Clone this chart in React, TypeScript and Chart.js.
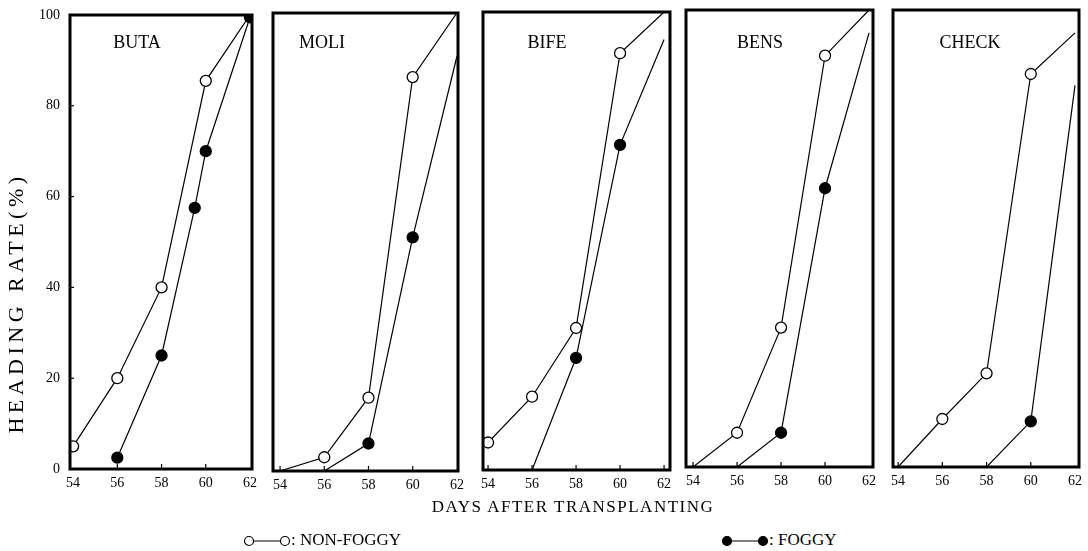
import React, { useEffect, useRef } from "react";
import { Chart, registerables } from "chart.js";

Chart.register(...registerables);

// ---------------- data ----------------
const X_TICKS = [54, 56, 58, 60, 62];
const Y_TICKS = [0, 20, 40, 60, 80, 100];
const VARIETIES = ["BUTA", "MOLI", "BIFE", "BENS", "CHECK"];

// Non-foggy (open circles): observed days / heading rate (%), plus line start/end points
const BUTA_NF_DAYS = [54, 56, 58, 60];
const BUTA_NF_RATE = [5, 20, 40, 85.5];
const BUTA_NF_START: number[] = [];
const BUTA_NF_END = [62, 100];
// Foggy (filled circles)
const BUTA_F_DAYS = [56, 58, 59.5, 60, 62];
const BUTA_F_RATE = [2.5, 25, 57.5, 70, 99.5];
const BUTA_F_START: number[] = [];
const BUTA_F_END: number[] = [];

const MOLI_NF_DAYS = [56, 58, 60];
const MOLI_NF_RATE = [3, 16, 86];
const MOLI_NF_START = [54, 0];
const MOLI_NF_END = [62, 100];
const MOLI_F_DAYS = [58, 60];
const MOLI_F_RATE = [6, 51];
const MOLI_F_START = [56, 0];
const MOLI_F_END = [62, 90.5];

const BIFE_NF_DAYS = [54, 56, 58, 60];
const BIFE_NF_RATE = [6, 16, 31, 91];
const BIFE_NF_START: number[] = [];
const BIFE_NF_END = [62, 100];
const BIFE_F_DAYS = [58, 60];
const BIFE_F_RATE = [24.5, 71];
const BIFE_F_START = [56, 0];
const BIFE_F_END = [62, 94];

const BENS_NF_DAYS = [56, 58, 60];
const BENS_NF_RATE = [7.5, 30.5, 90];
const BENS_NF_START = [54, 0];
const BENS_NF_END = [62, 100];
const BENS_F_DAYS = [58, 60];
const BENS_F_RATE = [7.5, 61];
const BENS_F_START = [56, 0];
const BENS_F_END = [62, 95];

const CHECK_NF_DAYS = [56, 58, 60];
const CHECK_NF_RATE = [10.5, 20.5, 86];
const CHECK_NF_START = [54, 0];
const CHECK_NF_END = [62, 95];
const CHECK_F_DAYS = [60];
const CHECK_F_RATE = [10];
const CHECK_F_START = [58, 0];
const CHECK_F_END = [62, 83.5];

type Series = { days: number[]; rate: number[]; start: number[]; end: number[] };

const PANEL_SERIES: { nf: Series; f: Series }[] = [
  {
    nf: { days: BUTA_NF_DAYS, rate: BUTA_NF_RATE, start: BUTA_NF_START, end: BUTA_NF_END },
    f: { days: BUTA_F_DAYS, rate: BUTA_F_RATE, start: BUTA_F_START, end: BUTA_F_END },
  },
  {
    nf: { days: MOLI_NF_DAYS, rate: MOLI_NF_RATE, start: MOLI_NF_START, end: MOLI_NF_END },
    f: { days: MOLI_F_DAYS, rate: MOLI_F_RATE, start: MOLI_F_START, end: MOLI_F_END },
  },
  {
    nf: { days: BIFE_NF_DAYS, rate: BIFE_NF_RATE, start: BIFE_NF_START, end: BIFE_NF_END },
    f: { days: BIFE_F_DAYS, rate: BIFE_F_RATE, start: BIFE_F_START, end: BIFE_F_END },
  },
  {
    nf: { days: BENS_NF_DAYS, rate: BENS_NF_RATE, start: BENS_NF_START, end: BENS_NF_END },
    f: { days: BENS_F_DAYS, rate: BENS_F_RATE, start: BENS_F_START, end: BENS_F_END },
  },
  {
    nf: { days: CHECK_NF_DAYS, rate: CHECK_NF_RATE, start: CHECK_NF_START, end: CHECK_NF_END },
    f: { days: CHECK_F_DAYS, rate: CHECK_F_RATE, start: CHECK_F_START, end: CHECK_F_END },
  },
];

// ---------------- layout (page pixels) ----------------
const FONT = '"Liberation Serif", "Times New Roman", Times, serif';
const PAD_L = 20;
const PAD_R = 20;
const PAD_T = 20;
const X_AXIS_H = 28;
const NAME_Y = 43;

const LAYOUT = [
  { left: 70, right: 252, top: 15, bottom: 469, xMin: 53.86, xMax: 62.09, nameX: 137 },
  { left: 273, right: 458, top: 13, bottom: 471, xMin: 53.68, xMax: 62.05, nameX: 322 },
  { left: 483, right: 670, top: 12, bottom: 470, xMin: 53.77, xMax: 62.27, nameX: 547 },
  { left: 686, right: 873, top: 10, bottom: 467, xMin: 53.68, xMax: 62.18, nameX: 760 },
  { left: 893, right: 1079, top: 10, bottom: 467, xMin: 53.77, xMax: 62.18, nameX: 970 },
];

function toPoints(s: Series) {
  const pts: { x: number; y: number }[] = [];
  if (s.start.length) pts.push({ x: s.start[0], y: s.start[1] });
  s.days.forEach((d, i) => pts.push({ x: d, y: s.rate[i] }));
  if (s.end.length) pts.push({ x: s.end[0], y: s.end[1] });
  return pts;
}

function makeDataset(s: Series, filled: boolean, label: string) {
  const first = s.start.length ? 1 : 0;
  const last = first + s.days.length - 1;
  return {
    label,
    data: toPoints(s),
    borderColor: "#000",
    borderWidth: 1.2,
    tension: 0,
    fill: false,
    pointRadius: (ctx: any) => (ctx.dataIndex >= first && ctx.dataIndex <= last ? 5.5 : 0),
    pointHoverRadius: 0,
    pointBackgroundColor: filled ? "#000" : "#fff",
    pointBorderColor: "#000",
    pointBorderWidth: 1.3,
  };
}

function Panel({ index }: { index: number }) {
  const ref = useRef<HTMLCanvasElement | null>(null);
  const L = LAYOUT[index];
  const isFirst = index === 0;
  const boxLeft = isFirst ? 0 : L.left - PAD_L;
  const boxTop = L.top - PAD_T;
  const boxW = L.right + PAD_R - boxLeft;
  const boxH = L.bottom - L.top + PAD_T + X_AXIS_H;

  useEffect(() => {
    if (!ref.current) return;
    const series = PANEL_SERIES[index];
    const name = VARIETIES[index];
    const decor = {
      id: "decor",
      afterDraw(chart: any) {
        const { ctx, chartArea: a, scales } = chart;
        ctx.save();
        ctx.strokeStyle = "#000";
        ctx.lineWidth = 1.2;
        X_TICKS.forEach((v) => {
          const px = scales.x.getPixelForValue(v);
          if (px > a.left + 4 && px < a.right - 4) {
            ctx.beginPath();
            ctx.moveTo(px, a.bottom);
            ctx.lineTo(px, a.bottom - 5);
            ctx.stroke();
          }
        });
        if (isFirst) {
          Y_TICKS.forEach((v) => {
            const py = scales.y.getPixelForValue(v);
            if (py > a.top + 4 && py < a.bottom - 4) {
              ctx.beginPath();
              ctx.moveTo(a.left, py);
              ctx.lineTo(a.left + 4, py);
              ctx.stroke();
            }
          });
        }
        ctx.lineWidth = 3;
        ctx.strokeRect(a.left, a.top, a.right - a.left, a.bottom - a.top);
        ctx.fillStyle = "#000";
        ctx.font = `18px ${FONT}`;
        ctx.textAlign = "center";
        ctx.textBaseline = "middle";
        ctx.fillText(name, a.left + (L.nameX - L.left), a.top + (NAME_Y - L.top));
        ctx.restore();
      },
    };

    const chart = new Chart(ref.current, {
      type: "line",
      data: {
        datasets: [
          makeDataset(series.f, true, "FOGGY") as any,
          makeDataset(series.nf, false, "NON-FOGGY") as any,
        ],
      },
      options: {
        animation: false,
        responsive: false,
        maintainAspectRatio: false,
        events: [],
        layout: { padding: { left: 0, right: PAD_R, top: PAD_T, bottom: 0 } },
        plugins: {
          legend: { display: false },
          tooltip: { enabled: false },
          title: { display: false },
        },
        scales: {
          x: {
            type: "linear",
            min: L.xMin,
            max: L.xMax,
            afterBuildTicks: (s: any) => {
              s.ticks = X_TICKS.map((v) => ({ value: v }));
            },
            afterFit: (s: any) => {
              s.height = X_AXIS_H;
              s.paddingLeft = 0;
              s.paddingRight = 0;
            },
            grid: { display: false, drawTicks: false },
            border: { display: false },
            ticks: {
              color: "#000",
              font: { family: FONT, size: 14 },
              padding: 6,
              maxRotation: 0,
              autoSkip: false,
            },
          },
          y: {
            type: "linear",
            min: 0,
            max: 100,
            afterBuildTicks: (s: any) => {
              s.ticks = Y_TICKS.map((v) => ({ value: v }));
            },
            afterFit: (s: any) => {
              s.width = L.left - boxLeft;
              s.paddingTop = 0;
              s.paddingBottom = 0;
            },
            grid: { display: false, drawTicks: false },
            border: { display: false },
            ticks: {
              display: isFirst,
              color: "#000",
              font: { family: FONT, size: 14 },
              padding: 10,
            },
          },
        },
      },
      plugins: [decor as any],
    });
    return () => chart.destroy();
  }, []);

  return (
    <div style={{ position: "absolute", left: boxLeft, top: boxTop, width: boxW, height: boxH }}>
      <canvas ref={ref} width={boxW} height={boxH} style={{ display: "block" }} />
    </div>
  );
}

function LegendMark({ filled }: { filled: boolean }) {
  const fill = filled ? "#000" : "#fff";
  return (
    <svg width={48} height={14} style={{ display: "inline-block", verticalAlign: "middle" }}>
      <line x1={6} y1={7} x2={42} y2={7} stroke="#000" strokeWidth={1.2} />
      <circle cx={6} cy={7} r={4.5} fill={fill} stroke="#000" strokeWidth={1.2} />
      <circle cx={42} cy={7} r={4.5} fill={fill} stroke="#000" strokeWidth={1.2} />
    </svg>
  );
}

export default function App() {
  return (
    <div
      style={{
        position: "fixed",
        left: 0,
        top: 0,
        width: 1088,
        height: 551,
        background: "#fff",
        overflow: "hidden",
        fontFamily: FONT,
        color: "#000",
      }}
    >
      {LAYOUT.map((_, i) => (
        <Panel key={i} index={i} />
      ))}
      <div
        style={{
          position: "absolute",
          left: 16 - 160,
          top: 303 - 13,
          width: 320,
          height: 26,
          lineHeight: "26px",
          textAlign: "center",
          fontSize: 22,
          letterSpacing: 4.5,
          transform: "rotate(-90deg)",
          whiteSpace: "nowrap",
        }}
      >
        HEADING RATE(%)
      </div>
      <div
        style={{
          position: "absolute",
          left: 573 - 250,
          top: 497,
          width: 500,
          height: 20,
          lineHeight: "20px",
          textAlign: "center",
          fontSize: 17,
          letterSpacing: 1.5,
          whiteSpace: "nowrap",
        }}
      >
        DAYS AFTER TRANSPLANTING
      </div>
      <div style={{ position: "absolute", left: 243, top: 530, height: 20, lineHeight: "20px", fontSize: 17, whiteSpace: "nowrap" }}>
        <LegendMark filled={false} />
        <span>: NON-FOGGY</span>
      </div>
      <div style={{ position: "absolute", left: 721, top: 530, height: 20, lineHeight: "20px", fontSize: 17, whiteSpace: "nowrap" }}>
        <LegendMark filled={true} />
        <span>: FOGGY</span>
      </div>
    </div>
  );
}
